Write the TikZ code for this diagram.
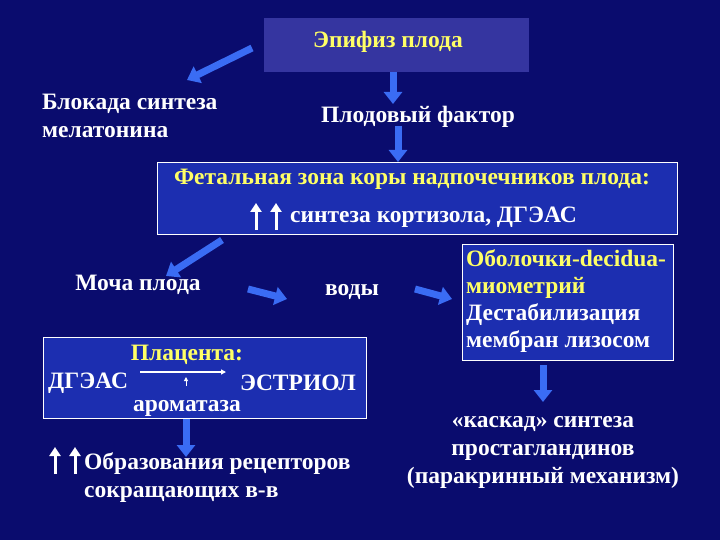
\documentclass[tikz,border=0pt]{standalone}
\usepackage{fontspec}
\setmainfont{Liberation Serif}
\usetikzlibrary{arrows.meta}
\definecolor{bg}{HTML}{0A0C6E}
\definecolor{boxa}{HTML}{3535A0}
\definecolor{boxb}{HTML}{1C2EB0}
\definecolor{arr}{HTML}{3A6CF4}
\definecolor{yel}{HTML}{FFFF66}
\tikzset{
 fat/.style={arr,line width=7pt,-{Triangle[length=12pt,width=18pt]}},
 txt/.style={text=white,font=\bfseries\fontsize{23.5}{28}\selectfont,inner sep=0pt},
 ytxt/.style={txt,text=yel},
 box/.style={draw=white,line width=0.8pt,fill=boxb},
 up/.style={white,line width=3pt,-{Triangle[length=9pt,width=11pt]}}
}
\begin{document}
\begin{tikzpicture}[x=1pt,y=-1pt]
\fill[bg] (0,0) rectangle (720,540);
\useasboundingbox (0,0) rectangle (720,540);
% top
\node[fill=boxa,minimum width=265,minimum height=54,inner sep=0] (epi) at (396.5,45) {};
\node[ytxt] (epit) at (388,42) {Эпифиз плода};
\node[txt,align=left,anchor=west] (blok) at (42,116) {Блокада синтеза\\мелатонина};
\node[txt] (plod) at (418,117) {Плодовый фактор};
\coordinate (a1s) at (252,48); \coordinate (a1e) at (187,80);
\draw[fat] (a1s) -- (a1e);
\draw[fat] (epi.south -| 393,0) -- (393,104);
\draw[fat] (398,126) -- (398,162);
% fetal zone
\node[box,minimum width=520,minimum height=72,inner sep=0] (fz) at (417,198) {};
\node[ytxt] (fzt) at (412,179) {Фетальная зона коры надпочечников плода:};
\node[txt,anchor=west] (fzt2) at (290,217) {синтеза кортизола, ДГЭАС};
\draw[up] (256,230) -- (256,203);
\draw[up] (276,230) -- (276,203);
% middle row
\draw[fat] (222,240) -- (166,276);
\node[txt] (mocha) at (138,285) {Моча плода};
\draw[fat] (248,289) -- (287,299);
\node[txt] (vody) at (352,292) {воды};
\draw[fat] (415,289) -- (452,299);
\node[box,minimum width=211,minimum height=116,inner sep=0] (rb) at (567.5,302) {};
\node[txt,align=left,anchor=north west] (rbt) at (466,249) {\textcolor{yel}{Оболочки-decidua-}\\[-1pt]\textcolor{yel}{миометрий}\\[-1pt]Дестабилизация\\[-1pt]мембран лизосом};
\draw[fat] (543,365) -- (543,402);
\node[txt,align=center] (kask) at (543,452) {«каскад» синтеза\\простагландинов\\(паракринный механизм)};
% placenta
\node[box,minimum width=323,minimum height=81,inner sep=0] (pl) at (204.5,377.5) {};
\node[ytxt] (plt) at (187,355) {Плацента:};
\node[txt,anchor=west] (dgeas) at (48,383) {ДГЭАС};
\node[txt] (estr) at (298,383) {ЭСТРИОЛ};
\node[txt] (arom) at (187,408) {ароматаза};
\coordinate (d1) at (140,372); \coordinate (d2) at (226,372);
\draw[white,line width=1.2pt,-{Triangle[length=5pt,width=5pt]}] (d1) -- (d2);
\draw[white,line width=1pt,-{Triangle[length=4pt,width=4pt]}] (186,386) -- (186,377);
\draw[fat] (186,419) -- (186,457);
% receptors
\draw[up] (55,474) -- (55,447);
\draw[up] (75,474) -- (75,447);
\node[txt,align=left,anchor=north west] (rec) at (84,452) {Образования рецепторов\\сокращающих в-в};
\end{tikzpicture}
\end{document}
